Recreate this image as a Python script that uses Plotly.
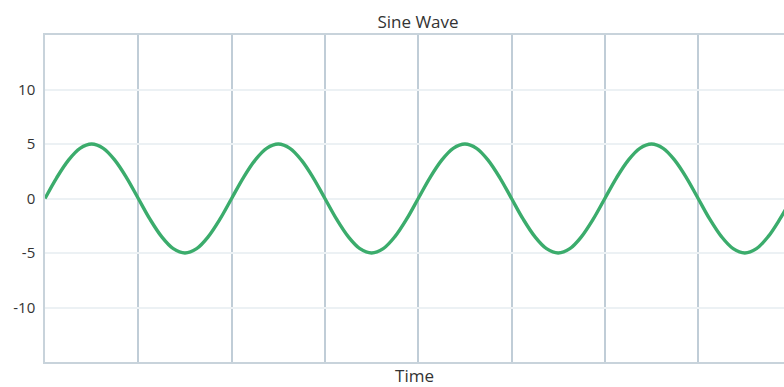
import plotly.graph_objects as go

# Time in half-period units (gridlines at each zero crossing)
time = [0, 0.125, 0.25, 0.375, 0.5, 0.625, 0.75, 0.875,
        1, 1.125, 1.25, 1.375, 1.5, 1.625, 1.75, 1.875,
        2, 2.125, 2.25, 2.375, 2.5, 2.625, 2.75, 2.875,
        3, 3.125, 3.25, 3.375, 3.5, 3.625, 3.75, 3.875,
        4, 4.125, 4.25, 4.375, 4.5, 4.625, 4.75, 4.875,
        5, 5.125, 5.25, 5.375, 5.5, 5.625, 5.75, 5.875,
        6, 6.125, 6.25, 6.375, 6.5, 6.625, 6.75, 6.875,
        7, 7.125, 7.25, 7.375, 7.5, 7.625, 7.75, 7.875, 7.95]
amplitude = [0, 1.9, 3.5, 4.6, 5, 4.6, 3.5, 1.9,
             0, -1.9, -3.5, -4.6, -5, -4.6, -3.5, -1.9,
             0, 1.9, 3.5, 4.6, 5, 4.6, 3.5, 1.9,
             0, -1.9, -3.5, -4.6, -5, -4.6, -3.5, -1.9,
             0, 1.9, 3.5, 4.6, 5, 4.6, 3.5, 1.9,
             0, -1.9, -3.5, -4.6, -5, -4.6, -3.5, -1.9,
             0, 1.9, 3.5, 4.6, 5, 4.6, 3.5, 1.9,
             0, -1.9, -3.5, -4.6, -5, -4.6, -3.5, -1.9, -0.8]
y_ticks = [-10, -5, 0, 5, 10]
y_tick_labels = ["-10", "-5", "0", "5", "10"]
x_grid = [0, 1, 2, 3, 4, 5, 6, 7]

fig = go.Figure()
fig.add_trace(go.Scatter(
    x=time, y=amplitude, mode="lines",
    line=dict(color="#3bac6c", width=3.4, shape="spline", smoothing=1.0),
    hoverinfo="skip", showlegend=False,
))

fig.update_layout(
    width=784, height=387,
    margin=dict(l=45, r=0, t=35, b=25, autoexpand=False),
    paper_bgcolor="white", plot_bgcolor="white",
    font=dict(family="Open Sans, Lato, sans-serif", color="#333333"),
    title=dict(text="Sine Wave", x=418 / 784, xanchor="center", y=1 - 22 / 387, yanchor="middle",
               xref="container",
               font=dict(size=17, color="#333333", family="Open Sans, sans-serif")),
)
fig.update_xaxes(
    range=[0, 7.92], tickvals=x_grid, showticklabels=False, ticks="",
    showgrid=True, gridcolor="#c0cdd7", gridwidth=1.5,
    showline=True, linecolor="#c8d3db", linewidth=1.5, mirror=True,
    zeroline=False, automargin=False,
    title=dict(text="Time", standoff=9, font=dict(size=17, color="#333333")),
)
fig.update_yaxes(
    range=[-15, 15], tickvals=y_ticks, ticktext=y_tick_labels, ticks="",
    showgrid=True, gridcolor="#ecf1f4", gridwidth=1.5,
    showline=True, linecolor="#c8d3db", linewidth=1.5, mirror=False,
    zeroline=False, ticklabelstandoff=5, automargin=False,
    tickfont=dict(size=15, color="#333333"),
)

fig.write_html("out.html", config={"displayModeBar": False},
               post_script="document.body.style.margin='0';document.body.style.padding='0';document.body.style.overflow='hidden';")
